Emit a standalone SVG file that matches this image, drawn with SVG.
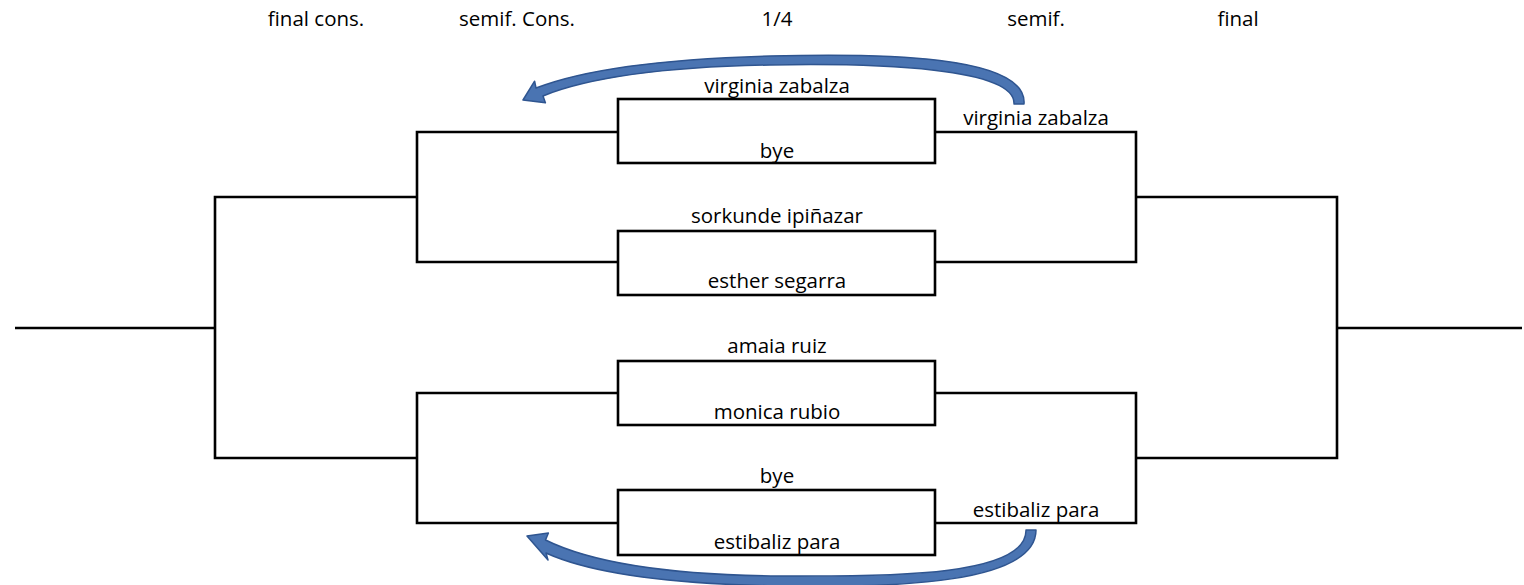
<svg xmlns="http://www.w3.org/2000/svg" width="1524" height="585" viewBox="0 0 1524 585">
<style>
.ln{fill:none;stroke:#000;stroke-width:2.6;stroke-linecap:butt;stroke-linejoin:miter}
.bx{fill:#fff;stroke:#000;stroke-width:2.6}
.t{font-family:"Open Sans","Liberation Sans",sans-serif;font-size:20.5px;fill:#000;text-anchor:middle}
.arr{fill:#4A74B2;stroke:#2F5590;stroke-width:1.5;stroke-linejoin:round}
</style>
<rect width="1524" height="585" fill="#fff"/>
<g id="headers">
<text class="t" x="316" y="26">final cons.</text>
<text class="t" x="517" y="26">semif. Cons.</text>
<text class="t" x="777" y="26">1/4</text>
<text class="t" x="1036" y="26">semif.</text>
<text class="t" x="1238" y="26">final</text>
</g>
<g id="connectors">
<path class="ln" d="M15,328 H215"/>
<path class="ln" d="M417,197 H215 V458 H417"/>
<path class="ln" d="M618,132 H417 V262 H618"/>
<path class="ln" d="M618,393 H417 V523 H618"/>
<path class="ln" d="M935,132 H1136 V262 H935"/>
<path class="ln" d="M1136,197 H1337 V458 H1136"/>
<path class="ln" d="M935,393 H1136 V523 H935"/>
<path class="ln" d="M1337,328 H1522"/>
</g>
<g id="match1">
<rect class="bx" x="618" y="99" width="317" height="64"/>
<text class="t" x="777" y="93">virginia zabalza</text>
<text class="t" x="777" y="158">bye</text>
</g>
<g id="match2">
<rect class="bx" x="618" y="231" width="317" height="64"/>
<text class="t" x="777" y="223">sorkunde ipiñazar</text>
<text class="t" x="777" y="288">esther segarra</text>
</g>
<g id="match3">
<rect class="bx" x="618" y="361" width="317" height="64"/>
<text class="t" x="777" y="353">amaia ruiz</text>
<text class="t" x="777" y="419">monica rubio</text>
</g>
<g id="match4">
<rect class="bx" x="618" y="490" width="317" height="65"/>
<text class="t" x="777" y="483">bye</text>
<text class="t" x="777" y="549">estibaliz para</text>
</g>
<g id="semif-top">
<text class="t" x="1036" y="125">virginia zabalza</text>
</g>
<g id="semif-bottom">
<text class="t" x="1036" y="517">estibaliz para</text>
</g>
<g id="arrow-top">
<path class="arr" d="M1024,104 C1028,55 880,53 770,56 C660,59 585,69 536,88 L534.6,81.2 L523,100 L545.4,102.8 L543,96 C585,79 660,67 770,65 C880,63 1016,68 1014,104 Z"/>
</g>
<g id="arrow-bottom">
<path class="arr" d="M1036,530 C1036,583 900,588 780,586 C660,584 588,572 546,553 L548,560 L527,536 L548.4,533 L545.5,540 C586,560 660,575 780,576 C900,577 1027,575 1026,530 Z"/>
</g>
</svg>
